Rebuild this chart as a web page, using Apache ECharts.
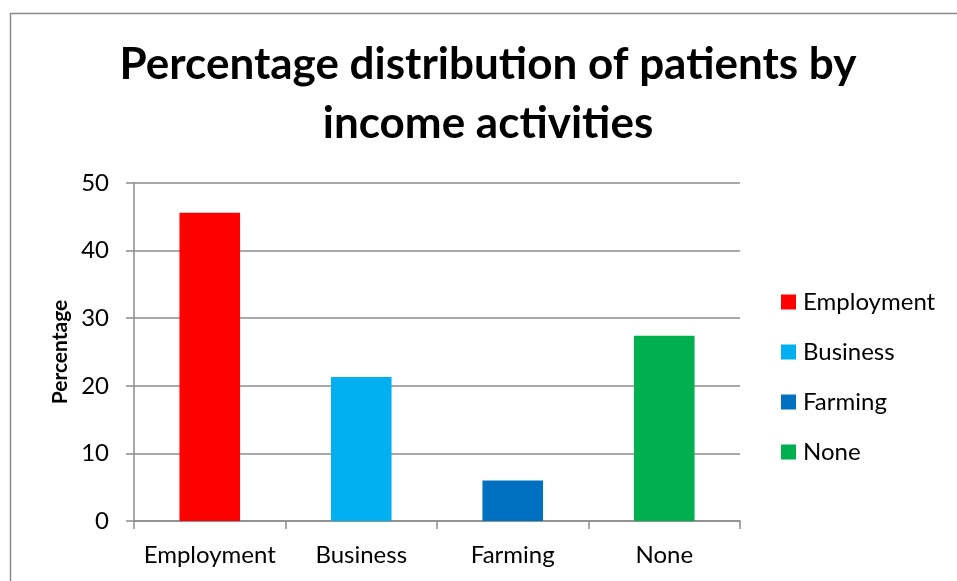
<!DOCTYPE html>
<html>
<head>
<meta charset="utf-8">
<script src="https://cdn.jsdelivr.net/npm/echarts@6/dist/echarts.min.js"></script>
<style>
  html, body { margin: 0; padding: 0; background: #ffffff; }
  #chart { width: 957px; height: 581px; }
</style>
</head>
<body>
<div id="chart"></div>
<script>
// Income activities and share of patients (%)
const categories = ['Employment', 'Business', 'Farming', 'None'];
const percentages = [45.6, 21.3, 6.0, 27.4];
const barColors = ['#FF0000', '#00B0F0', '#0070C0', '#00B050'];
const yTicks = { min: 0, max: 50, interval: 10 };

const FONT = 'Lato, "Open Sans", sans-serif';

// One series per category so each gets its own legend entry; stacking keeps the bars centred.
const series = categories.map((name, i) => ({
  name: name,
  type: 'bar',
  stack: 'income',
  barWidth: '40%',
  itemStyle: { color: barColors[i] },
  data: categories.map((_, j) => (j === i ? percentages[i] : '-'))
}));

const chart = echarts.init(document.getElementById('chart'), null, { renderer: 'canvas' });
chart.setOption({
  animation: false,
  backgroundColor: '#ffffff',
  title: {
    text: 'Percentage distribution of patients by\nincome activities',
    left: 488,
    top: 35,
    padding: 0,
    textAlign: 'center',
    textStyle: {
      fontFamily: FONT,
      fontWeight: 'bold',
      fontSize: 44,
      lineHeight: 59,
      color: '#000000'
    }
  },
  legend: {
    orient: 'vertical',
    left: 781,
    top: 290,
    padding: 0,
    itemWidth: 15,
    itemHeight: 15,
    itemGap: 26,
    icon: 'rect',
    data: categories,
    textStyle: { fontFamily: FONT, fontSize: 24, lineHeight: 24, color: '#000000', padding: [0, 0, 0, 2] }
  },
  grid: { left: 134, top: 183, width: 606, height: 338, containLabel: false },
  xAxis: {
    type: 'category',
    data: categories,
    axisLine: { lineStyle: { color: '#8C8C8C', width: 1.5 } },
    axisTick: { show: true, length: 8, lineStyle: { color: '#8C8C8C', width: 1.5 } },
    axisLabel: { interval: 0, fontFamily: FONT, fontSize: 24, color: '#000000', margin: 22 },
    splitLine: { show: false }
  },
  yAxis: {
    type: 'value',
    min: yTicks.min,
    max: yTicks.max,
    interval: yTicks.interval,
    name: 'Percentage',
    nameLocation: 'middle',
    nameRotate: 90,
    nameGap: 60,
    nameTextStyle: { fontFamily: FONT, fontSize: 21, fontWeight: 'bold', color: '#000000' },
    axisLine: { show: true, lineStyle: { color: '#8C8C8C', width: 1.5 } },
    axisTick: { show: true, length: 8, lineStyle: { color: '#8C8C8C', width: 1.5 } },
    axisLabel: { fontFamily: FONT, fontSize: 24, color: '#000000', margin: 25 },
    splitLine: { show: true, lineStyle: { color: '#8C8C8C', width: 1.5 } }
  },
  graphic: [{
    type: 'rect',
    left: 8,
    top: 11,
    shape: { width: 1000, height: 700 },
    style: { fill: 'none', stroke: '#8C8C8C', lineWidth: 1.5 },
    silent: true
  }],
  series: series
});
</script>
</body>
</html>
